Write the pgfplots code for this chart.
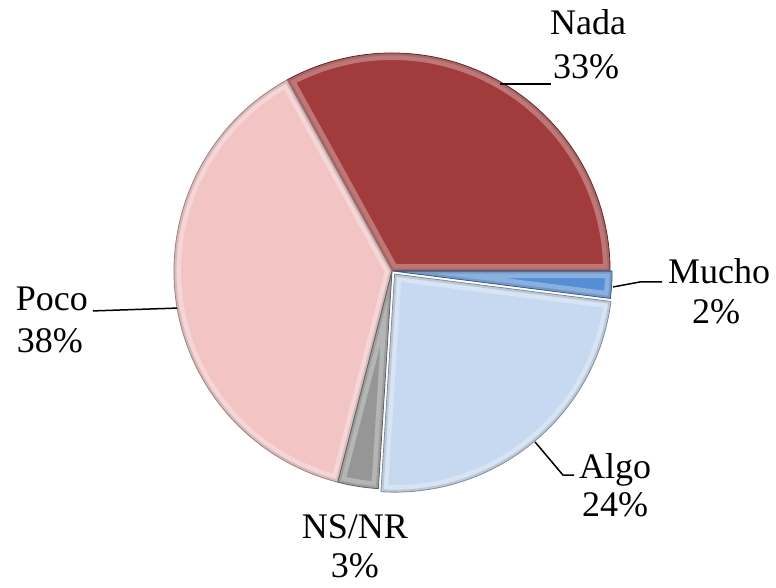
\documentclass[border=0pt]{standalone}
\usepackage{pgfplots}
\pgfplotsset{compat=1.18}
\usepackage{fontspec}
\setmainfont{Liberation Serif}

\definecolor{nada}{RGB}{162,59,59}
\definecolor{poco}{RGB}{242,196,196}
\definecolor{algo}{RGB}{198,217,240}
\definecolor{mucho}{RGB}{85,142,213}
\definecolor{nsnr}{RGB}{150,150,150}

\tikzset{lbl/.style={font=\fontsize{18bp}{21.6bp}\selectfont, anchor=base, inner sep=0pt}}

% one wedge: #1 cumulative start (%), #2 share (%), #3 colour, #4 explode offset
\newcommand\slice[4]{%
  \pgfmathsetmacro\sa{3.6*#1}%
  \pgfmathsetmacro\da{3.6*#2}%
  \pgfmathsetmacro\ma{3.6*(#1+#2/2)}%
  \path (axis cs:0,0) ++(\ma:#4) coordinate (C);
  \fill[#3] (C) -- ++(\sa:109bp) arc[start angle=\sa, delta angle=\da, radius=109bp] -- cycle;
  \begin{scope}
    \clip (C) -- ++(\sa:109bp) arc[start angle=\sa, delta angle=\da, radius=109bp] -- cycle;
    \draw[white, opacity=0.3, line width=7bp, line join=round]
      (C) -- ++(\sa:109bp) arc[start angle=\sa, delta angle=\da, radius=109bp] -- cycle;
    \draw[black, opacity=0.12, line width=2.5bp, line join=round]
      (C) -- ++(\sa:109bp) arc[start angle=\sa, delta angle=\da, radius=109bp] -- cycle;
  \end{scope}
  \draw[#3!65!black, line width=0.4bp, line join=round]
    (C) -- ++(\sa:109bp) arc[start angle=\sa, delta angle=\da, radius=109bp] -- cycle;
}

\begin{document}
\begin{tikzpicture}
\begin{axis}[
  x=109bp, y=109bp,
  xmin=-1.798, xmax=1.761, ymin=-1.450, ymax=1.243,
  hide axis, clip=false,
]
\pgfplotsextra{%
  \slice{0}{33}{nada}{0bp}
  \slice{33}{38}{poco}{0bp}
  \slice{71}{3}{nsnr}{0bp}
  \slice{74}{24}{algo}{2bp}
  \slice{98}{2}{mucho}{1bp}
}
% leader lines
\draw[line width=0.75bp] (axis cs:0.495,0.858) -- (axis cs:0.729,0.858);
\draw[line width=0.75bp] (axis cs:1.014,-0.073) -- (axis cs:1.138,-0.050) -- (axis cs:1.239,-0.050);
\draw[line width=0.75bp] (axis cs:-1.372,-0.183) -- (axis cs:-0.986,-0.170);
\draw[line width=0.75bp] (axis cs:0.656,-0.784) -- (axis cs:0.784,-0.936) -- (axis cs:0.835,-0.936);
% labels
\node[lbl] at (axis cs:0.899,1.083) {Nada};
\node[lbl] at (axis cs:0.890,0.885) {33\%};
\node[lbl] at (axis cs:1.500,-0.055) {Mucho};
\node[lbl] at (axis cs:1.486,-0.239) {2\%};
\node[lbl] at (axis cs:-1.560,-0.179) {Poco};
\node[lbl] at (axis cs:-1.569,-0.372) {38\%};
\node[lbl] at (axis cs:1.023,-0.950) {Algo};
\node[lbl] at (axis cs:1.023,-1.128) {24\%};
\node[lbl] at (axis cs:-0.170,-1.225) {NS/NR};
\node[lbl] at (axis cs:-0.170,-1.405) {3\%};
\end{axis}
\pgfresetboundingbox
\useasboundingbox (current axis.south west) rectangle (current axis.north east);
\end{tikzpicture}
\end{document}
